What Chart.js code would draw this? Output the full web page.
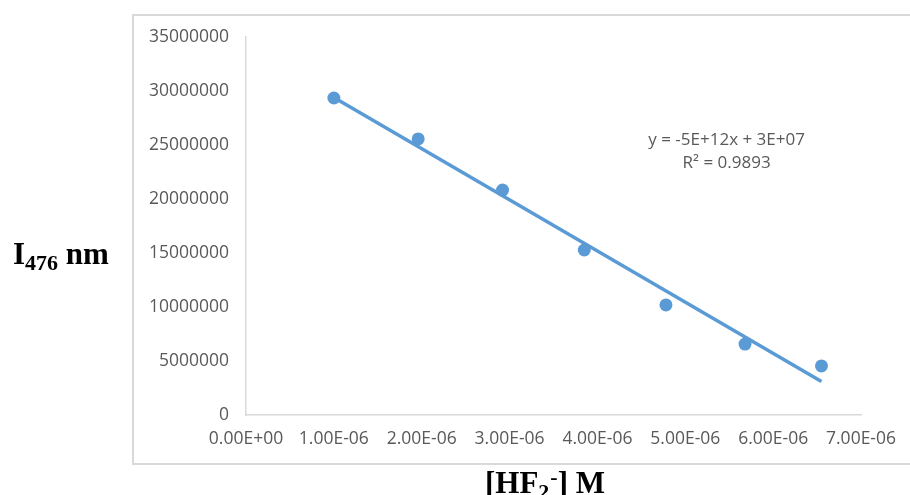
<!DOCTYPE html>
<html>
<head>
<meta charset="utf-8">
<script src="https://cdn.jsdelivr.net/npm/chart.js@4.4.0/dist/chart.umd.min.js"></script>
<style>
    html, body { margin: 0; padding: 0; background: #fff; }
</style>
</head>
<body>
<canvas id="myChart" width="910" height="495"></canvas>
<script>
// Values
const concentrations = [1.00e-6, 1.96e-6, 2.92e-6, 3.85e-6, 4.78e-6, 5.68e-6, 6.55e-6]; // [HF2-] M
const intensities = [29350000, 25560000, 20830000, 15280000, 10190000, 6570000, 4540000]; // I476

// linear trendline ends (as drawn in the picture)
const trendX = [1.00e-6, 6.55e-6];
const trendY = [29400000, 3100000];

const xTickValues = [0, 1e-6, 2e-6, 3e-6, 4e-6, 5e-6, 6e-6, 7e-6];
const xTickLabels = ['0.00E+00', '1.00E-06', '2.00E-06', '3.00E-06', '4.00E-06', '5.00E-06', '6.00E-06', '7.00E-06'];
const yTickValues = [0, 5000000, 10000000, 15000000, 20000000, 25000000, 30000000, 35000000];
const yTickLabels = ['0', '5000000', '10000000', '15000000', '20000000', '25000000', '30000000', '35000000'];

const equationLines = ['y = -5E+12x + 3E+07', 'R² = 0.9893'];

const blue = '#5b9bd5';
const gray = '#595959';
const lineGray = '#d9d9d9';

// frame, axis titles and the trendline equation
const extras = {
    id: 'extras',
    beforeDraw(chart) {
        const ctx = chart.ctx;
        ctx.save();
        ctx.fillStyle = '#fff';
        ctx.fillRect(0, 0, chart.width, chart.height);
        ctx.strokeStyle = lineGray;
        ctx.lineWidth = 2;
        ctx.strokeRect(133, 15, 800, 449);
        ctx.restore();
    },
    afterDraw(chart) {
        const ctx = chart.ctx;
        ctx.save();
        ctx.fillStyle = '#000';
        ctx.textBaseline = 'alphabetic';
        ctx.textAlign = 'left';
        const big = 'bold 31px "Liberation Serif"';
        const small = 'bold 22px "Liberation Serif"';

        // y title: I476 nm
        let x = 13;
        ctx.font = big;
        ctx.fillText('I', x, 264);
        x += ctx.measureText('I').width;
        ctx.font = small;
        ctx.fillText('476', x, 270);
        x += ctx.measureText('476').width;
        ctx.font = big;
        ctx.fillText(' nm', x, 264);

        // x title: [HF2-] M
        x = 485;
        ctx.font = big;
        ctx.fillText('[HF', x, 493);
        x += ctx.measureText('[HF').width;
        ctx.font = small;
        ctx.fillText('2', x, 499);
        x += ctx.measureText('2').width + 1;
        ctx.fillText('-', x, 484);
        x += ctx.measureText('-').width;
        ctx.font = big;
        ctx.fillText('] M', x, 493);

        // equation
        const xs = chart.scales.x, ys = chart.scales.y;
        const cx = xs.getPixelForValue(5.47e-6);
        ctx.font = '17px "Open Sans"';
        ctx.fillStyle = gray;
        ctx.textAlign = 'center';
        ctx.textBaseline = 'middle';
        ctx.fillText(equationLines[0], cx, ys.getPixelForValue(25450000));
        ctx.fillText(equationLines[1], cx, ys.getPixelForValue(23300000));
        ctx.restore();
    }
};

const ctx = document.getElementById('myChart');
const myChart = new Chart(ctx, {
    type: 'scatter',
    data: {
        datasets: [
            {
                label: 'points',
                data: concentrations.map((c, i) => ({ x: c, y: intensities[i] })),
                backgroundColor: blue,
                borderColor: blue,
                borderWidth: 0,
                pointRadius: 6.5,
                order: 2
            },
            {
                label: 'trend',
                type: 'line',
                data: trendX.map((c, i) => ({ x: c, y: trendY[i] })),
                borderColor: blue,
                borderWidth: 3.5,
                pointRadius: 0,
                fill: false,
                order: 1
            }
        ]
    },
    options: {
        responsive: false,
        animation: false,
        devicePixelRatio: 1,
        layout: { padding: { left: 133, right: 48, top: 37, bottom: 0 } },
        scales: {
            x: {
                type: 'linear',
                min: 0,
                max: 7e-6,
                afterBuildTicks: s => { s.ticks = xTickValues.map(v => ({ value: v })); },
                afterFit: s => { s.height = 80; },
                grid: { display: true, color: 'rgba(0,0,0,0)', drawTicks: false },
                border: { display: true, color: lineGray, width: 1.5 },
                ticks: {
                    callback: (v, i) => xTickLabels[i],
                    color: gray,
                    font: { family: 'Open Sans', size: 17.5 },
                    padding: 14,
                    maxRotation: 0,
                    autoSkip: false
                }
            },
            y: {
                type: 'linear',
                min: 0,
                max: 35000000,
                afterBuildTicks: s => { s.ticks = yTickValues.map(v => ({ value: v })); },
                afterFit: s => { s.width = 113; },
                grid: { display: true, color: 'rgba(0,0,0,0)', drawTicks: false },
                border: { display: true, color: lineGray, width: 1.5 },
                ticks: {
                    callback: (v, i) => yTickLabels[i],
                    color: gray,
                    font: { family: 'Open Sans', size: 17.5 },
                    padding: 17,
                    autoSkip: false
                }
            }
        },
        plugins: {
            legend: { display: false },
            tooltip: { enabled: false }
        }
    },
    plugins: [extras]
});
</script>
</body>
</html>
